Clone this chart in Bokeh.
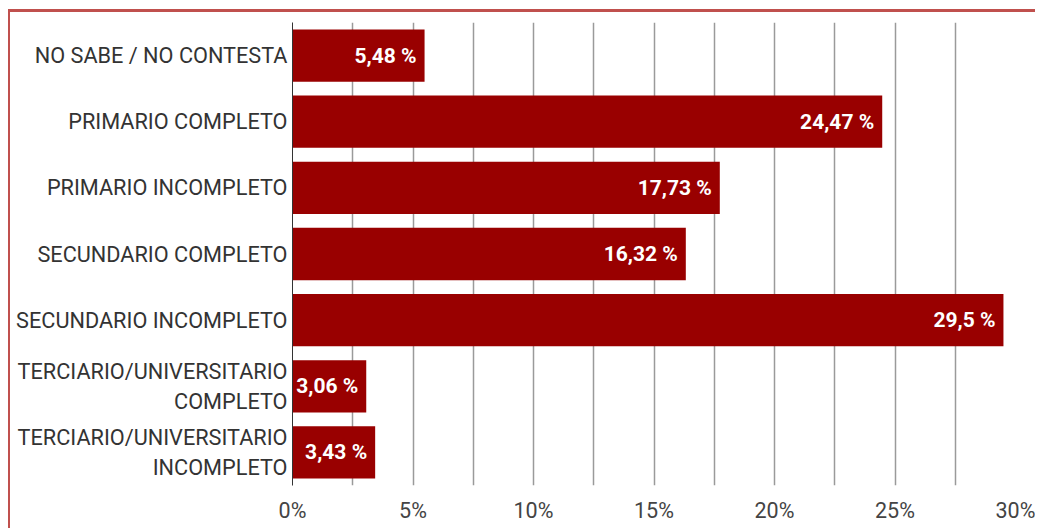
from bokeh.plotting import figure
from bokeh.models import ColumnDataSource, FixedTicker, FactorRange, LabelSet
from bokeh.core.properties import value
from bokeh.embed import file_html
from bokeh.resources import INLINE

categories = [
    "NO SABE / NO CONTESTA",
    "PRIMARIO COMPLETO",
    "PRIMARIO INCOMPLETO",
    "SECUNDARIO COMPLETO",
    "SECUNDARIO INCOMPLETO",
    "TERCIARIO/UNIVERSITARIO\nCOMPLETO",
    "TERCIARIO/UNIVERSITARIO\nINCOMPLETO",
]
values = [5.48, 24.47, 17.73, 16.32, 29.5, 3.06, 3.43]
value_labels = ["5,48 %", "24,47 %", "17,73 %", "16,32 %", "29,5 %", "3,06 %", "3,43 %"]
x_ticks = [0, 5, 10, 15, 20, 25, 30]
x_tick_labels = ["0%", "5%", "10%", "15%", "20%", "25%", "30%"]
grid_ticks = [0, 2.5, 5, 7.5, 10, 12.5, 15, 17.5, 20, 22.5, 25, 27.5, 30]

src = ColumnDataSource(dict(cat=categories, val=values, lab=value_labels))

p = figure(
    width=1027, height=519,
    y_range=FactorRange(factors=list(reversed(categories))),
    x_range=(0, 30),
    output_backend="svg", toolbar_location=None,
    min_border_left=282, min_border_right=22, min_border_top=10, min_border_bottom=46,
)
p.styles = {"border-top": "3px solid #c0504d", "border-left": "2px solid #c0504d",
            "margin-top": "9px", "margin-left": "8px"}
p.outline_line_color = None
p.background_fill_color = "white"

p.hbar(y="cat", right="val", left=0, height=0.79, source=src,
       fill_color="#990000", line_color=None)

labels = LabelSet(x="val", y="cat", text="lab", source=src, x_offset=-8,
                  text_align="right", text_baseline="middle",
                  text_color="white", text_font_style="bold",
                  text_font_size="21px", text_font=value("Roboto"))
p.add_layout(labels)

p.xaxis.ticker = FixedTicker(ticks=x_ticks)
p.xaxis.major_label_overrides = {t: l for t, l in zip(x_ticks, x_tick_labels)}
p.xaxis.axis_line_color = None
p.xaxis.major_tick_line_color = None
p.xaxis.major_tick_out = 0
p.xaxis.minor_tick_line_color = None
p.xaxis.major_label_text_font = "Roboto"
p.xaxis.major_label_text_font_size = "21.5px"
p.xaxis.major_label_text_color = "#444444"
p.xaxis.major_label_standoff = 12

p.yaxis.axis_line_color = "#333333"
p.yaxis.axis_line_width = 1
p.yaxis.major_tick_line_color = None
p.yaxis.major_tick_out = 0
p.yaxis.minor_tick_line_color = None
p.yaxis.major_label_text_font = "Roboto"
p.yaxis.major_label_text_font_size = "21.7px"
p.yaxis.major_label_text_color = "#333333"
p.yaxis.major_label_standoff = 5

p.xgrid.ticker = FixedTicker(ticks=grid_ticks)
p.xgrid.grid_line_color = "#9a9a9a"
p.xgrid.grid_line_width = 1.5
p.ygrid.grid_line_color = None

open("out.html", "w").write(file_html(p, INLINE))
